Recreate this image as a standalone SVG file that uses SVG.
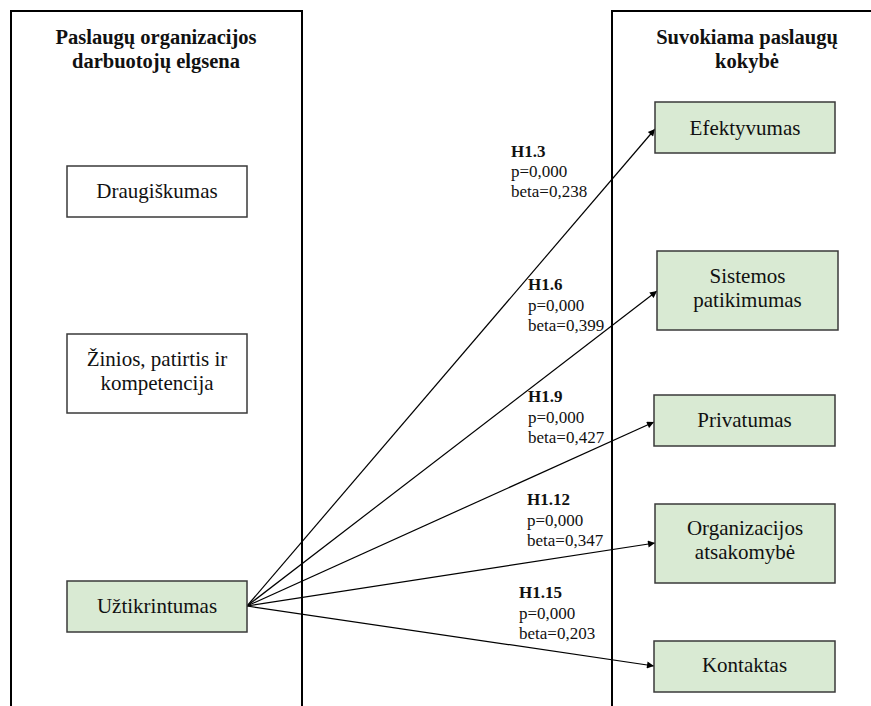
<svg xmlns="http://www.w3.org/2000/svg" width="871" height="706" viewBox="0 0 871 706">
<defs>
<style>
.panel{fill:none;stroke:#000;stroke-width:2}
.box{stroke:#3a3a3a;stroke-width:1.5}
.w{fill:#fff}
.g{fill:#d9ead3}
.t{font-family:"Liberation Serif","Times New Roman",serif;font-size:21px;fill:#111;text-anchor:middle}
.h{font-family:"Liberation Serif","Times New Roman",serif;font-size:20.5px;font-weight:bold;fill:#111;text-anchor:middle}
.l{font-family:"Liberation Serif","Times New Roman",serif;font-size:17px;fill:#111}
.lb{font-weight:bold}
.c{fill:none;stroke:#000;stroke-width:1.2}
</style>
<marker id="ah" viewBox="0 0 10 10" refX="10" refY="5" markerWidth="9" markerHeight="7" markerUnits="userSpaceOnUse" orient="auto">
<path d="M0,0 L10,5 L0,10 z" fill="#000"/>
</marker>
</defs>
<rect width="871" height="706" fill="#fff"/>
<g id="panel-left">
<path class="panel" d="M11,707 V11 H302 V707"/>
<text class="h" x="156" y="44">Paslaugų organizacijos</text>
<text class="h" x="156" y="68">darbuotojų elgsena</text>
</g>
<g id="panel-right">
<path class="panel" d="M612,707 V11 H872"/>
<text class="h" x="747" y="44">Suvokiama paslaugų</text>
<text class="h" x="747" y="68">kokybė</text>
</g>
<g id="connectors">
<line class="c" x1="247" y1="606" x2="655" y2="129" marker-end="url(#ah)"/>
<line class="c" x1="247" y1="606" x2="657" y2="291" marker-end="url(#ah)"/>
<line class="c" x1="247" y1="606" x2="654" y2="422" marker-end="url(#ah)"/>
<line class="c" x1="247" y1="606" x2="655" y2="543" marker-end="url(#ah)"/>
<line class="c" x1="247" y1="606" x2="654" y2="666" marker-end="url(#ah)"/>
</g>
<g id="labels">
<text class="l" x="511" y="157"><tspan class="lb">H1.3</tspan><tspan x="511" dy="20">p=0,000</tspan><tspan x="511" dy="20">beta=0,238</tspan></text>
<text class="l" x="528" y="290"><tspan class="lb">H1.6</tspan><tspan x="528" dy="20.5">p=0,000</tspan><tspan x="528" dy="20.5">beta=0,399</tspan></text>
<text class="l" x="528" y="402"><tspan class="lb">H1.9</tspan><tspan x="528" dy="20.5">p=0,000</tspan><tspan x="528" dy="20.5">beta=0,427</tspan></text>
<text class="l" x="527" y="505"><tspan class="lb">H1.12</tspan><tspan x="527" dy="20.5">p=0,000</tspan><tspan x="527" dy="20.5">beta=0,347</tspan></text>
<text class="l" x="519" y="598"><tspan class="lb">H1.15</tspan><tspan x="519" dy="20.5">p=0,000</tspan><tspan x="519" dy="20.5">beta=0,203</tspan></text>
</g>
<g id="node-draugiskumas">
<rect class="box w" x="67" y="166" width="180" height="51"/>
<text class="t" x="157" y="198">Draugiškumas</text>
</g>
<g id="node-zinios">
<rect class="box w" x="67" y="334" width="180" height="79"/>
<text class="t" x="157" y="366">Žinios, patirtis ir</text>
<text class="t" x="157" y="390">kompetencija</text>
</g>
<g id="node-uztikrintumas">
<rect class="box g" x="67" y="581" width="180" height="51"/>
<text class="t" x="157" y="613">Užtikrintumas</text>
</g>
<g id="node-efektyvumas">
<rect class="box g" x="655" y="102" width="180" height="51"/>
<text class="t" x="745" y="135">Efektyvumas</text>
</g>
<g id="node-sistemos">
<rect class="box g" x="657" y="251" width="181" height="79"/>
<text class="t" x="747.5" y="283">Sistemos</text>
<text class="t" x="747.5" y="307">patikimumas</text>
</g>
<g id="node-privatumas">
<rect class="box g" x="654" y="395" width="181" height="51"/>
<text class="t" x="744.5" y="427">Privatumas</text>
</g>
<g id="node-organizacijos">
<rect class="box g" x="655" y="504" width="180" height="79"/>
<text class="t" x="745" y="535">Organizacijos</text>
<text class="t" x="745" y="559">atsakomybė</text>
</g>
<g id="node-kontaktas">
<rect class="box g" x="654" y="641" width="181" height="51"/>
<text class="t" x="744.5" y="672">Kontaktas</text>
</g>
</svg>
